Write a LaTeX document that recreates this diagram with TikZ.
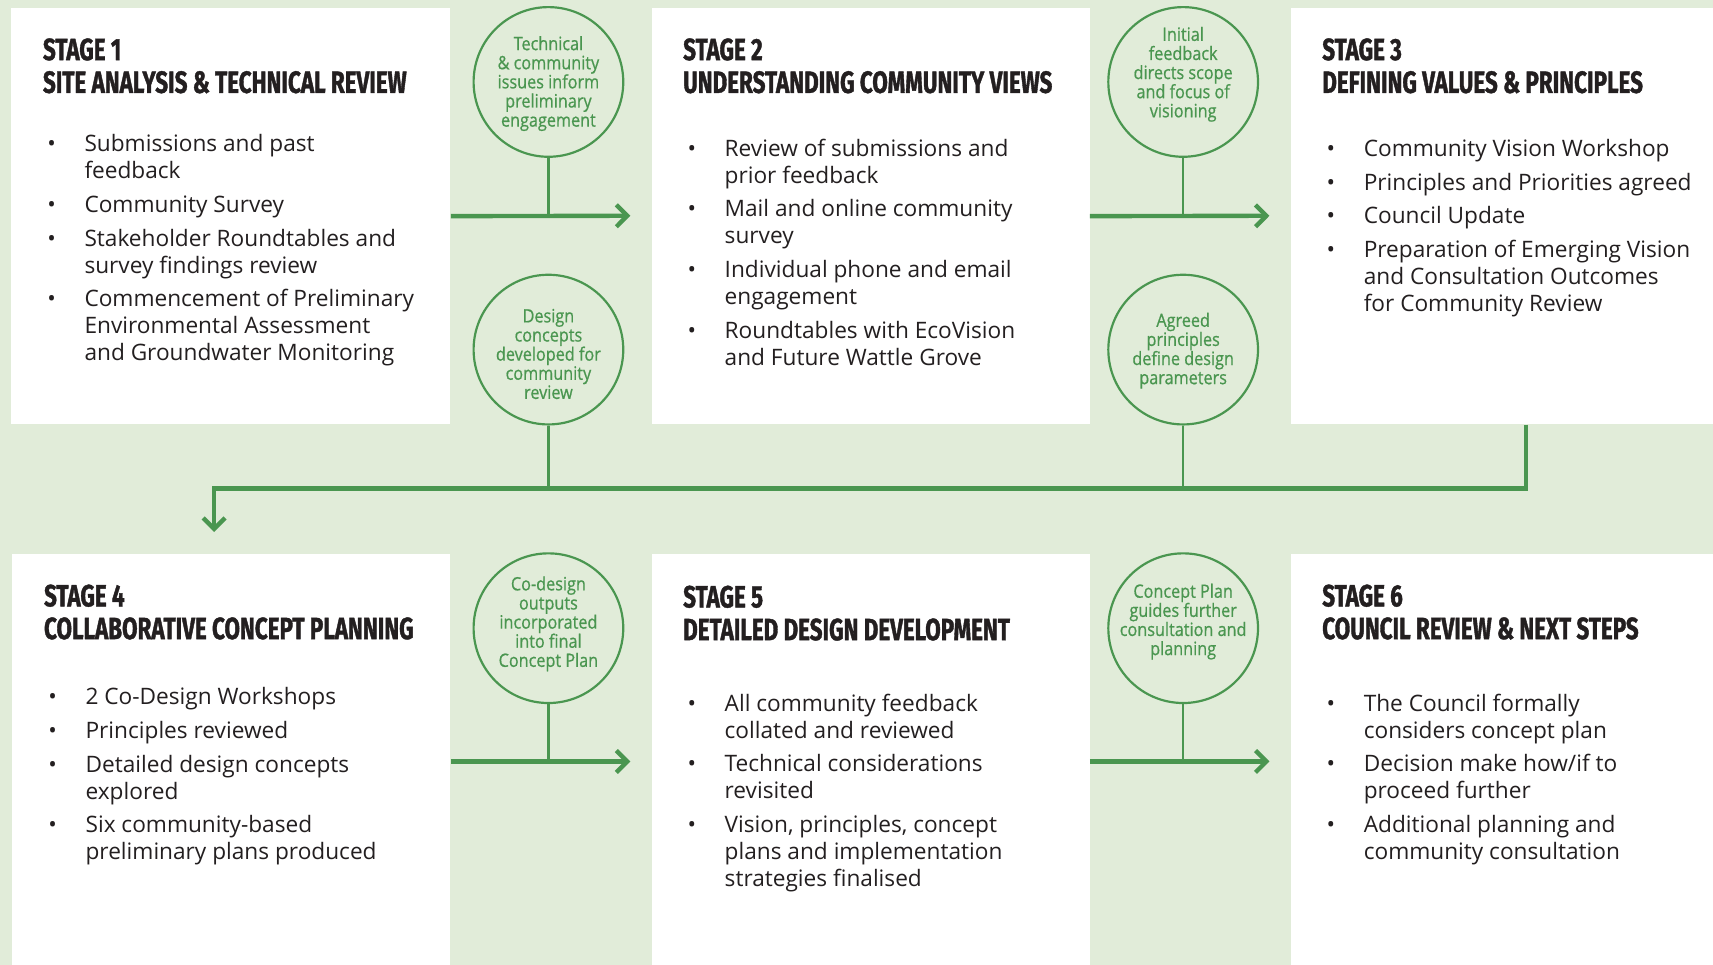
\documentclass[tikz,border=0pt]{standalone}
\usepackage{fontspec}
\setmainfont{Open Sans}
\newfontfamily\headfont[FakeStretch=0.73,FakeBold=1.2]{Fira Sans}
\newfontfamily\circfont[FakeStretch=0.88,FakeBold=0.7]{Open Sans}
\usetikzlibrary{arrows.meta}
\newlength{\px}\setlength{\px}{0.02cm}
\definecolor{bggreen}{RGB}{225,236,217}
\definecolor{linegreen}{RGB}{74,150,80}
\definecolor{inkdark}{RGB}{35,31,32}
\newcommand{\stagehead}[2]{{\headfont\bfseries\fontsize{16pt}{17.07pt}\selectfont\begin{tabular}[t]{@{}l@{}}#1\\#2\end{tabular}}}
\newcommand{\blist}[1]{{\fontsize{11.8pt}{14pt}\selectfont\begin{tabular}[t]{@{}p{38\px}@{}l@{}}#1\end{tabular}}}
\newcommand{\bul}{\hspace*{4\px}\textbullet}
\newcommand{\ig}{\\[3.6pt]}
\tikzset{
  box/.style={fill=white, draw=none, anchor=north west, inner sep=0pt, minimum height=381\px},
  circ/.style={circle, draw=linegreen, line width=2\px, minimum size=137\px, inner sep=0pt},
  ctext/.style={align=center, text=linegreen, inner sep=0pt, font=\circfont\fontsize{9.6pt}{9.96pt}\selectfont},
  head/.style={anchor=base west, inner sep=0pt, text=inkdark},
  blst/.style={anchor=base west, inner sep=0pt, text=inkdark},
  arrowline/.style={draw=linegreen, line width=4\px, -{Straight Barb[length=0.2cm,width=0.4cm]}},
  thinline/.style={draw=linegreen, line width=2.2\px},
  mainline/.style={draw=linegreen, line width=4\px, line join=miter, -{Straight Barb[length=0.2cm,width=0.4cm]}}
}
\begin{document}
\begin{tikzpicture}[x=0.02cm,y=-0.02cm]
\useasboundingbox (0,0) rectangle (1568,883);
\fill[bggreen] (0,0) rectangle (1568,883);
% boxes
\node[box, minimum width=402\px] (b1) at (10,7) {};
\node[box, minimum width=401\px] (b2) at (596,7) {};
\node[box, minimum width=387\px] (b3) at (1181,7) {};
\node[box, minimum width=401\px, minimum height=376\px] (b4) at (11,507) {};
\node[box, minimum width=401\px, minimum height=376\px] (b5) at (596,507) {};
\node[box, minimum width=387\px, minimum height=376\px] (b6) at (1181,507) {};
% circles
\node[circ] (c1) at (502,75) {};
\node[circ] (c2) at (502,320) {};
\node[circ] (c3) at (1083,75) {};
\node[circ] (c4) at (1083,320) {};
\node[circ] (c5) at (502,575) {};
\node[circ] (c6) at (1083,575) {};
\node[ctext] (t1) at (502,76.5) {Technical\\\& community\\issues inform\\preliminary\\engagement};
\node[ctext] (t2) at (502,324) {Design\\concepts\\developed for\\community\\review};
\node[ctext] (t3) at (1083,68) {Initial\\feedback\\directs scope\\and focus of\\visioning};
\node[ctext] (t4) at (1083,321) {Agreed\\principles\\define design\\parameters};
\node[ctext] (t5) at (502,571) {Co-design\\outputs\\incorporated\\into final\\Concept Plan};
\node[ctext] (t6) at (1083,569) {Concept Plan\\guides further\\consultation and\\planning};
% headings
\node[head] (h1) at (39,55) {\stagehead{STAGE 1}{SITE ANALYSIS \& TECHNICAL REVIEW}};
\node[head] (h2) at (625,55) {\stagehead{STAGE 2}{UNDERSTANDING COMMUNITY VIEWS}};
\node[head] (h3) at (1210,55) {\stagehead{STAGE 3}{DEFINING VALUES \& PRINCIPLES}};
\node[head] (h4) at (40,555) {\stagehead{STAGE 4}{COLLABORATIVE CONCEPT PLANNING}};
\node[head] (h5) at (625,556) {\stagehead{STAGE 5}{DETAILED DESIGN DEVELOPMENT}};
\node[head] (h6) at (1210,555) {\stagehead{STAGE 6}{COUNCIL REVIEW \& NEXT STEPS}};
% lists
\node[blst] (l1) at (39,139) {\blist{\bul & Submissions and past\\ & feedback\ig
 \bul & Community Survey\ig
 \bul & Stakeholder Roundtables and\\ & survey findings review\ig
 \bul & Commencement of Preliminary\\ & Environmental Assessment\\ & and Groundwater Monitoring}};
\node[blst] (l2) at (625,143) {\blist{\bul & Review of submissions and\\ & prior feedback\ig
 \bul & Mail and online community\\ & survey\ig
 \bul & Individual phone and email\\ & engagement\ig
 \bul & Roundtables with EcoVision\\ & and Future Wattle Grove}};
\node[blst] (l3) at (1210,143) {\blist{\bul & Community Vision Workshop\ig
 \bul & Principles and Priorities agreed\ig
 \bul & Council Update\ig
 \bul & Preparation of Emerging Vision\\ & and Consultation Outcomes\\ & for Community Review}};
\node[blst] (l4) at (40,645) {\blist{\bul & 2 Co-Design Workshops\ig
 \bul & Principles reviewed\ig
 \bul & Detailed design concepts\\ & explored\ig
 \bul & Six community-based\\ & preliminary plans produced}};
\node[blst] (l5) at (625,651) {\blist{\bul & All community feedback\\ & collated and reviewed\ig
 \bul & Technical considerations\\ & revisited\ig
 \bul & Vision, principles, concept\\ & plans and implementation\\ & strategies finalised}};
\node[blst] (l6) at (1210,651) {\blist{\bul & The Council formally\\ & considers concept plan\ig
 \bul & Decision make how/if to\\ & proceed further\ig
 \bul & Additional planning and\\ & community consultation}};
% connectors
\coordinate (a1) at (577,197.5);
\coordinate (a2) at (1162,197.5);
\coordinate (a3) at (577,697);
\coordinate (a4) at (1162,697);
\coordinate (j) at (196,447);
\coordinate (tgt) at (196,487);
\coordinate (s3x) at (1397,0);
\draw[arrowline] (b1.east) -- (a1);
\draw[arrowline] (b2.east) -- (a2);
\draw[arrowline] (b4.east |- a3) -- (a3);
\draw[arrowline] (b5.east |- a4) -- (a4);
\draw[thinline] (c1.south) -- (c1.south |- a1);
\draw[thinline] (c3.south) -- (c3.south |- a2);
\draw[thinline] (c5.south) -- (c5.south |- a3);
\draw[thinline] (c6.south) -- (c6.south |- a4);
\draw[thinline] (c2.south) -- (c2.south |- j);
\draw[thinline] (c4.south) -- (c4.south |- j);
\draw[mainline] (b3.south -| s3x) |- (j) -- (tgt);
\end{tikzpicture}
\end{document}
